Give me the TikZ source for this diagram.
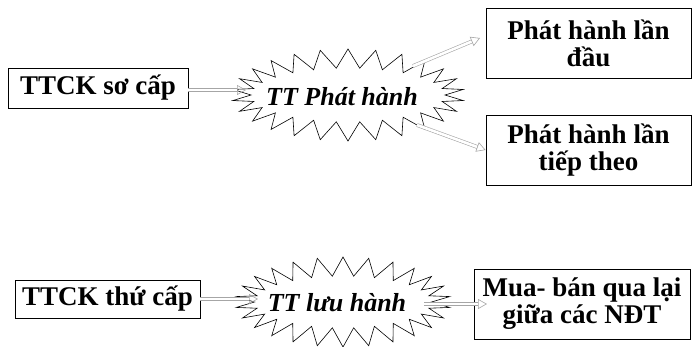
\documentclass[tikz,border=0pt]{standalone}
\usepackage{fontspec}
\setmainfont{Liberation Serif}
\usetikzlibrary{shapes.symbols,arrows.meta}
\tikzset{
  box/.style={draw, line width=0.8pt, align=center, inner sep=0pt,
    font=\fontsize{27}{27}\selectfont\bfseries},
  burst/.style={draw, line width=0.6pt, starburst, random starburst=0,
    starburst point height=19pt, starburst points=26, inner sep=0pt},
  bursttext/.style={font=\fontsize{26}{26}\selectfont\bfseries\itshape},
  harrow/.style={draw=gray!70, double=white, double distance=2.6pt, line width=0.6pt,
    -{Triangle[open, length=9pt, width=10pt]}}
}
\begin{document}
\begin{tikzpicture}[x=1pt,y=-1pt]
\useasboundingbox (0,0) rectangle (693,346);
\node[box, minimum width=180pt, minimum height=40pt] (b1) at (98,88) {TTCK sơ cấp};
\node[box, minimum width=205pt, minimum height=70pt] (b2) at (588.5,43) {Phát hành lần\\đầu};
\node[box, minimum width=205pt, minimum height=70pt] (b3) at (588.5,150) {Phát hành lần\\tiếp theo};
\node[box, minimum width=185pt, minimum height=38pt] (b4) at (107.5,299) {TTCK thứ cấp};
\node[box, minimum width=216pt, minimum height=70pt] (b5) at (582,304) {Mua- bán qua lại\\giữa các NĐT};
\node[burst, minimum width=232pt, minimum height=92pt,
  label={[bursttext, xshift=-6pt, yshift=-2pt]center:TT Phát hành}] (s1) at (348,95) {};
\node[burst, minimum width=215pt, minimum height=90pt,
  label={[bursttext, xshift=-6pt, yshift=-1pt]center:TT lưu hành}] (s2) at (343,302) {};
\coordinate (t1) at (246,90);
\coordinate (s1a) at (413,66);
\coordinate (t2) at (480,38);
\coordinate (s1b) at (417,125);
\coordinate (t4) at (258,299);
\coordinate (s2a) at (424,304);
\coordinate (t5) at (487,304);
\draw[harrow] (b1.east |- t1) -- (t1);
\draw[harrow] (s1a) -- (t2);
\draw[harrow] (s1b) -- (b3.west);
\draw[harrow] (b4.east) -- (t4);
\draw[harrow] (s2a) -- (t5);
\end{tikzpicture}
\end{document}
